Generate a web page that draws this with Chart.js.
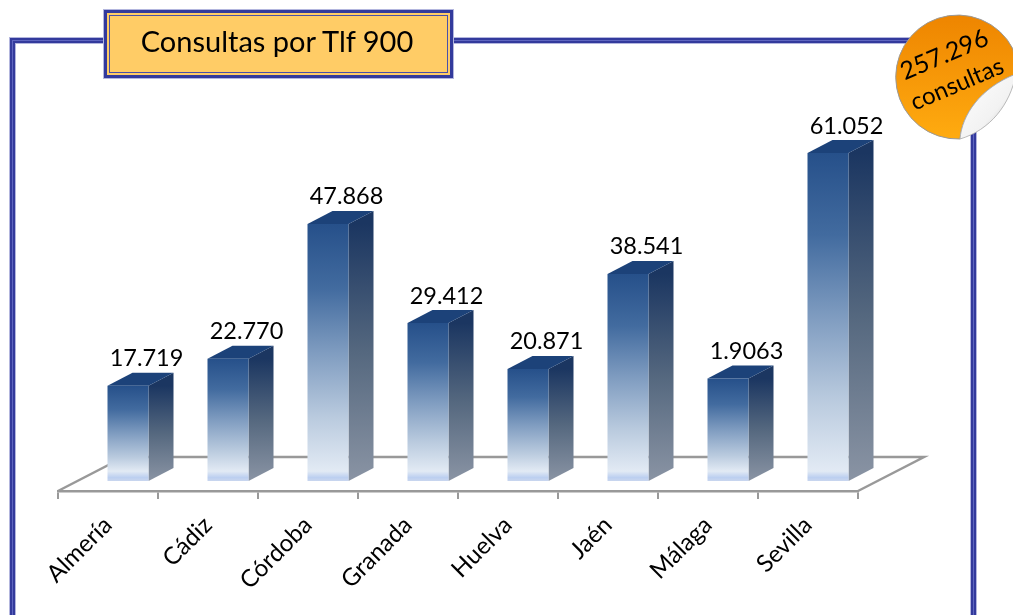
<!DOCTYPE html>
<html lang="es">
<head>
<meta charset="utf-8">
<title>Consultas por Tlf 900</title>
<script src="https://cdn.jsdelivr.net/npm/chart.js@4/dist/chart.umd.min.js"></script>
<style>
    html, body { margin: 0; padding: 0; background: #fff; overflow: hidden; width: 1013px; height: 615px; }
    #marco {
        position: absolute; left: 13px; top: 41px; width: 956px; height: 700px;
        border: 2px solid #333a9c;
        box-shadow: 0 0 0 1px #5f66c0, 0 0 0 3px #333a9c, 0 0 0 4px #b3b6de, inset 0 0 0 1px #b3b6de;
    }
    #titulo {
        position: absolute; left: 104px; top: 10px; width: 343px; height: 62px;
        border: 3px solid #333a9c; background: #ffcc66;
        box-shadow: 0 0 0 1px #b3b6de, inset 0 0 0 2px #ffcc66, inset 0 0 0 3px #4a50a8;
        font: 29px Lato, sans-serif; color: #000; text-align: center; line-height: 56px;
        text-indent: -3px;
    }
    #lienzo { position: absolute; left: 0; top: 0; }
    #pegatina { position: absolute; left: 890px; top: 5px; }
</style>
</head>
<body>
<div id="marco"></div>
<canvas id="lienzo" width="1013" height="615"></canvas>
<div id="titulo">Consultas por Tlf 900</div>
<svg id="pegatina" width="123" height="145" viewBox="890 5 123 145">
    <defs>
        <linearGradient id="naranja" x1="0" y1="0" x2="0" y2="1">
            <stop offset="0" stop-color="#ee8500"/>
            <stop offset="1" stop-color="#ffab10"/>
        </linearGradient>
        <linearGradient id="doblez" x1="0" y1="0" x2="1" y2="1">
            <stop offset="0" stop-color="#ffffff"/>
            <stop offset="0.6" stop-color="#f2f2f2"/>
            <stop offset="1" stop-color="#a8a8a8"/>
        </linearGradient>
    </defs>
    <path d="M1013 49 A62 62 0 1 0 960 139 C962 115 980 88 1016 74 Z" fill="url(#naranja)" stroke="#999" stroke-width="1"/>
    <path d="M960 139 C962 115 980 88 1016 74 C1010 105 990 130 960 139 Z" fill="url(#doblez)" stroke="#aaa" stroke-width="0.8"/>
    <text x="944" y="63" text-anchor="middle" transform="rotate(-23 944 54)" font-family="Lato" font-size="25" fill="#000">257.296</text>
    <text x="957" y="92" text-anchor="middle" transform="rotate(-23 957 84)" font-family="Lato" font-size="24" fill="#000">consultas</text>
</svg>
<script>
const provincias = ["Almería", "Cádiz", "Córdoba", "Granada", "Huelva", "Jaén", "Málaga", "Sevilla"];
const consultas = [17719, 22770, 47868, 29412, 20871, 38541, 19063, 61052];
//Los rótulos tal como salen en el original (Málaga viene con el punto corrido)
const rotulos = ["17.719", "22.770", "47.868", "29.412", "20.871", "38.541", "1.9063", "61.052"];

const fondoX = 66;
const fondoY = 34;
const ladoX = 25;
const ladoY = 13;
const corrimiento = 20;

//Degradado del frente de cada barra, de su techo a su base
function frente(contexto) {
    const grafico = contexto.chart;
    const y0 = grafico.scales.y ? grafico.scales.y.getPixelForValue(contexto.raw) : NaN;
    const y1 = grafico.scales.y ? grafico.scales.y.getPixelForValue(0) : NaN;
    if (!Number.isFinite(y0) || !Number.isFinite(y1)) return "#2a5590";
    const banda = 7 / (y1 - y0);
    const g = grafico.ctx.createLinearGradient(0, y0, 0, y1);
    g.addColorStop(0, "#26508a");
    g.addColorStop(0.25, "#426b9f");
    g.addColorStop(0.5, "#7f9cc0");
    g.addColorStop(0.75, "#b9cade");
    g.addColorStop(1 - banda * 1.4, "#e2eaf4");
    g.addColorStop(1 - banda * 0.5, "#bccff0");
    g.addColorStop(1, "#c9d6ee");
    return g;
}

//Piso, caras laterales, techos y rótulos que el gráfico de barras no trae
const tresD = {
    id: "tresD",
    afterDatasetsUpdate(grafico) {
        grafico.getDatasetMeta(0).data.forEach((barra) => {
            barra.x += corrimiento;
        });
    },
    beforeDatasetsDraw(grafico) {
        const c = grafico.ctx;
        const a = grafico.chartArea;
        c.save();
        c.strokeStyle = "#999999";
        c.lineWidth = 2.5;
        c.beginPath();
        c.moveTo(a.left, a.bottom);
        c.lineTo(a.left + fondoX, a.bottom - fondoY);
        c.lineTo(a.right + fondoX, a.bottom - fondoY);
        c.lineTo(a.right, a.bottom);
        c.stroke();
        grafico.getDatasetMeta(0).data.forEach((barra) => {
            const izq = barra.x - barra.width / 2;
            const der = barra.x + barra.width / 2;
            const g = c.createLinearGradient(0, barra.y, 0, barra.base);
            g.addColorStop(0, "#1b3661");
            g.addColorStop(0.5, "#55687f");
            g.addColorStop(1, "#8a94a4");
            c.fillStyle = g;
            c.beginPath();
            c.moveTo(der, barra.y);
            c.lineTo(der + ladoX, barra.y - ladoY);
            c.lineTo(der + ladoX, barra.base - ladoY);
            c.lineTo(der, barra.base);
            c.closePath();
            c.fill();
            c.fillStyle = "#1c4279";
            c.beginPath();
            c.moveTo(izq, barra.y);
            c.lineTo(izq + ladoX, barra.y - ladoY);
            c.lineTo(der + ladoX, barra.y - ladoY);
            c.lineTo(der, barra.y);
            c.closePath();
            c.fill();
        });
        c.restore();
    },
    afterDatasetsDraw(grafico) {
        const c = grafico.ctx;
        c.save();
        c.fillStyle = "#000";
        c.font = "23.5px Lato";
        c.textAlign = "center";
        c.textBaseline = "alphabetic";
        grafico.getDatasetMeta(0).data.forEach((barra, i) => {
            c.fillText(rotulos[i], barra.x + 18.5, barra.y - 19.5);
        });
        c.restore();
    },
};

new Chart(document.getElementById("lienzo"), {
    type: "bar",
    data: {
        labels: provincias,
        datasets: [
            {
                label: "Consultas",
                data: consultas,
                backgroundColor: frente,
                barPercentage: 0.41,
                categoryPercentage: 1,
            },
        ],
    },
    options: {
        responsive: false,
        animation: false,
        layout: {
            padding: { left: 58, right: 155, top: 105, bottom: 0 },
        },
        plugins: {
            legend: { display: false },
            title: { display: false },
            tooltip: { enabled: false },
        },
        scales: {
            x: {
                afterFit: (escala) => {
                    escala.height = 124;
                },
                border: { color: "#999999", width: 2.5 },
                grid: { color: "#999999", lineWidth: 2, drawOnChartArea: false, drawTicks: true, tickLength: 8 },
                ticks: {
                    color: "#000",
                    font: { family: "Lato", size: 24 },
                    minRotation: 45,
                    maxRotation: 45,
                    padding: 12,
                    labelOffset: 0,
                },
            },
            y: {
                display: false,
                min: -1862,
                max: 70000,
            },
        },
    },
    plugins: [tresD],
});
</script>
</body>
</html>
